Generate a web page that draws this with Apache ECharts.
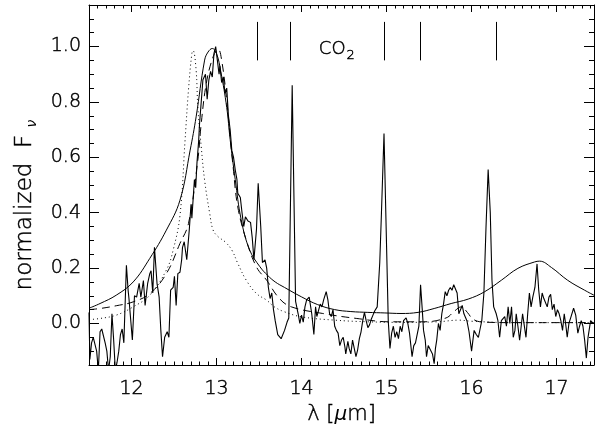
<!DOCTYPE html>
<html>
<head>
<meta charset="utf-8">
<script src="https://cdn.jsdelivr.net/npm/echarts@6/dist/echarts.min.js"></script>
<style>
html,body{margin:0;padding:0;background:#fff;}
#chart{width:595px;height:434px;}
</style>
</head>
<body>
<div id="chart"></div>
<script>
// ---------- data ----------
const xRange = [11.5, 17.44];
const yRange = [-0.15, 1.15];
const xTickValues = [12, 13, 14, 15, 16, 17];
const yTickValues = [0.0, 0.2, 0.4, 0.6, 0.8, 1.0];

// observed spectrum (noisy)
const obsX = [11.50,11.51,11.53,11.55,11.57,11.59,11.61,11.63,11.65,11.67,11.69,11.71,11.73,11.75,11.77,11.79,11.81,11.83,11.85,11.87,11.89,11.91,11.94,11.96,11.97,12.01,12.035,12.06,12.09,12.11,12.14,12.16,12.19,12.215,12.23,12.25,12.27,12.30,12.325,12.345,12.365,12.39,12.42,12.44,12.46,12.49,12.505,12.525,12.545,12.57,12.59,12.60,12.62,12.65,12.68,12.70,12.71,12.74,12.755,12.77,12.79,12.80,12.82,12.84,12.87,12.89,12.91,12.93,12.95,12.97,12.99,13.01,13.03,13.04,13.06,13.08,13.10,13.12,13.14,13.16,13.18,13.20,13.22,13.24,13.25,13.28,13.30,13.32,13.34,13.37,13.40,13.42,13.44,13.47,13.49,13.52,13.54,13.57,13.59,13.61,13.63,13.65,13.67,13.69,13.72,13.76,13.80,13.83,13.85,13.89,13.93,13.96,13.98,14.00,14.02,14.04,14.06,14.09,14.12,14.145,14.165,14.18,14.20,14.22,14.24,14.26,14.29,14.31,14.33,14.35,14.37,14.39,14.41,14.43,14.45,14.47,14.49,14.51,14.52,14.545,14.56,14.58,14.60,14.62,14.64,14.66,14.68,14.70,14.72,14.74,14.76,14.78,14.80,14.82,14.84,14.86,14.89,14.92,14.94,14.97,15.00,15.02,15.04,15.06,15.08,15.10,15.12,15.14,15.16,15.18,15.20,15.23,15.25,15.27,15.30,15.32,15.34,15.36,15.38,15.40,15.42,15.435,15.455,15.47,15.49,15.51,15.54,15.56,15.575,15.59,15.61,15.63,15.65,15.67,15.69,15.71,15.73,15.75,15.77,15.79,15.81,15.83,15.85,15.87,15.89,15.91,15.93,15.945,15.97,16.00,16.03,16.055,16.08,16.10,16.12,16.145,16.17,16.195,16.22,16.24,16.26,16.29,16.31,16.33,16.35,16.37,16.39,16.41,16.43,16.45,16.47,16.49,16.51,16.525,16.545,16.565,16.58,16.60,16.62,16.64,16.66,16.68,16.70,16.72,16.745,16.77,16.79,16.81,16.83,16.85,16.87,16.89,16.91,16.93,16.95,16.97,16.99,17.01,17.03,17.05,17.07,17.09,17.11,17.125,17.145,17.17,17.20,17.225,17.25,17.27,17.29,17.31,17.33,17.35,17.37,17.40,17.43];
const obsY = [0.04,-0.13,-0.07,-0.05,-0.05,-0.10,-0.17,-0.03,-0.02,-0.025,-0.07,-0.10,-0.17,-0.12,0.035,-0.06,-0.17,-0.14,-0.10,-0.04,-0.02,-0.07,0.21,0.12,0.09,-0.06,0.10,0.095,0.145,0.095,0.155,0.065,0.145,0.18,0.19,0.11,0.275,0.145,0.095,-0.025,-0.12,-0.05,-0.03,-0.05,0.12,0.13,0.17,0.065,0.18,0.185,0.23,0.275,0.295,0.23,0.34,0.43,0.38,0.52,0.49,0.58,0.66,0.72,0.80,0.88,0.90,0.81,0.88,0.91,0.89,0.975,1.0,0.95,0.90,0.93,0.87,0.89,0.83,0.85,0.75,0.70,0.625,0.60,0.555,0.52,0.47,0.455,0.40,0.35,0.385,0.37,0.365,0.31,0.23,0.34,0.506,0.35,0.22,0.23,0.20,0.13,0.09,0.11,0.05,0.01,-0.04,-0.055,-0.025,0.005,0.02,0.86,0.08,0.035,0.0,0.03,0.005,0.06,0.085,0.095,0.035,-0.04,0.06,0.025,0.03,0.07,0.06,0.085,0.115,0.085,0.035,0.025,0.05,-0.01,-0.025,-0.035,-0.08,-0.06,-0.05,-0.085,-0.11,-0.065,-0.09,-0.11,-0.06,-0.09,-0.12,-0.095,-0.055,-0.03,0.01,0.04,0.01,-0.015,-0.005,0.015,0.03,0.045,0.06,0.22,0.40,0.686,0.28,0.01,-0.09,-0.035,-0.01,-0.05,-0.03,-0.055,-0.01,-0.03,0.01,0.02,0.0,-0.035,-0.12,-0.08,-0.07,-0.07,-0.01,0.14,0.05,-0.025,-0.06,-0.12,-0.08,-0.085,-0.11,-0.145,-0.09,-0.06,0.0,-0.025,0.035,0.07,0.115,0.10,0.12,0.13,0.12,0.14,0.145,0.11,0.035,0.03,0.065,0.035,0.03,0.01,-0.03,-0.10,-0.025,-0.04,-0.05,-0.02,0.01,0.11,0.35,0.556,0.40,0.155,0.06,0.035,0.01,-0.05,0.01,0.005,0.025,-0.01,0.06,0.0,0.06,-0.05,-0.025,0.035,-0.01,-0.06,-0.02,0.035,0.04,-0.05,0.035,0.11,0.06,0.095,0.13,0.215,0.12,0.06,0.11,0.09,0.095,0.06,0.095,0.105,0.05,0.07,0.025,0.05,0.035,0.01,-0.025,0.035,-0.01,-0.05,0.0,0.025,0.055,0.03,-0.035,-0.01,0.01,-0.01,-0.06,-0.125,-0.05,0.01,0.0];

// model 1 (solid smooth)
const solidX = [11.50,11.63,11.82,12.02,12.215,12.41,12.57,12.69,12.76,12.86,12.90,12.95,13.00,13.05,13.12,13.16,13.22,13.29,13.39,13.51,13.60,13.69,13.80,14.00,14.19,14.39,14.58,14.78,14.98,15.17,15.37,15.56,15.76,15.96,16.15,16.35,16.545,16.74,16.80,16.94,17.13,17.33,17.44];
const solidY = [0.055,0.072,0.102,0.150,0.235,0.337,0.445,0.626,0.746,0.951,0.98,0.993,0.975,0.91,0.78,0.665,0.52,0.375,0.265,0.205,0.174,0.150,0.130,0.096,0.068,0.050,0.043,0.040,0.038,0.036,0.040,0.054,0.072,0.088,0.114,0.156,0.199,0.222,0.225,0.202,0.156,0.120,0.102];

// model 2 (dashed)
const dashX = [11.50,11.63,11.82,12.02,12.215,12.41,12.57,12.67,12.78,12.82,12.88,12.96,13.02,13.06,13.12,13.16,13.195,13.25,13.35,13.47,13.59,13.74,13.88,14.25,14.65,15.04,15.43,15.70,15.80,15.88,15.95,16.02,16.14,16.50,17.00,17.44];
const dashY = [0.050,0.054,0.064,0.078,0.108,0.180,0.289,0.361,0.59,0.722,0.867,0.963,0.99,0.951,0.806,0.674,0.566,0.421,0.301,0.204,0.156,0.09,0.06,0.036,0.018,0.006,0.006,0.02,0.045,0.06,0.04,0.015,0.005,0.003,0.003,0.003];

// model 3 (dotted)
const dotX = [11.50,11.63,11.82,12.02,12.215,12.41,12.49,12.57,12.63,12.67,12.71,12.725,12.76,12.78,12.82,12.86,12.92,12.96,13.02,13.10,13.18,13.25,13.35,13.47,13.59,13.68,13.80,14.00,14.39,14.78,15.20,15.60,15.85,16.00,16.50,17.44];
const dotY = [0.014,0.018,0.030,0.060,0.102,0.193,0.265,0.39,0.662,0.843,0.975,0.985,0.915,0.782,0.638,0.517,0.397,0.337,0.313,0.295,0.265,0.217,0.156,0.108,0.084,0.060,0.042,0.024,0.012,0.006,0.004,0.006,0.012,0.008,0.003,0.003];

// CO2 band markers
const co2X = [13.48, 13.87, 14.97, 15.40, 16.29];
const co2Span = [0.95, 1.089];
const co2Label = [14.415, 0.99];

// ---------- helpers ----------
const pairs = (xs, ys) => xs.map((x, i) => [x, ys[i]]);
const xMinorValues = [];
for (let k = 116; k <= 174; k++) if (k % 10 !== 0) xMinorValues.push(k / 10);
const yMinorValues = [];
for (let k = -3; k <= 23; k++) if (k % 4 !== 0) yMinorValues.push(Math.round(k * 5) / 100);

const FONT = 'DejaVu Sans';
const black = '#000';
// thin, dark text (light face with a hairline outline in black)
const thin = { fontFamily: FONT, fontWeight: 200, color: black, textBorderColor: black, textBorderWidth: 0.45 };
const greek = { fontFamily: FONT, fontWeight: 'normal', fontStyle: 'italic', color: black, textBorderWidth: 0 };

function xAx(pos, major, withLabel) {
  return {
    type: 'value', position: pos, min: xRange[0], max: xRange[1],
    axisLine: { show: major, onZero: false, lineStyle: { color: black, width: 1 } },
    axisTick: { show: true, inside: true, length: major ? 7 : 3.5,
      customValues: major ? xTickValues : xMinorValues, lineStyle: { color: black, width: 1 } },
    axisLabel: withLabel ? Object.assign({ show: true, customValues: xTickValues, margin: 15,
      fontSize: 19, formatter: v => String(v) }, thin) : { show: false },
    splitLine: { show: false }
  };
}
function yAx(pos, major, withLabel) {
  return {
    type: 'value', position: pos, min: yRange[0], max: yRange[1],
    axisLine: { show: major, onZero: false, lineStyle: { color: black, width: 1 } },
    axisTick: { show: true, inside: true, length: major ? 10 : 5,
      customValues: major ? yTickValues : yMinorValues, lineStyle: { color: black, width: 1 } },
    axisLabel: withLabel ? Object.assign({ show: true, customValues: yTickValues, margin: 8,
      fontSize: 19, formatter: v => v.toFixed(1) }, thin) : { show: false },
    splitLine: { show: false }
  };
}

const xAxes = [xAx('bottom', true, true), xAx('bottom', false, false), xAx('top', true, false), xAx('top', false, false)];
Object.assign(xAxes[0], {
  name: '{a|λ [}{b|μ}{a|m]}', nameLocation: 'middle', nameGap: 33,
  nameTextStyle: { rich: {
    a: Object.assign({ fontSize: 21 }, thin),
    b: Object.assign({ fontSize: 20 }, greek) } }
});
const yAxes = [yAx('left', true, true), yAx('left', false, false), yAx('right', true, false), yAx('right', false, false)];
Object.assign(yAxes[0], {
  name: '{a|normalized  F }{b|ν}', nameLocation: 'middle', nameGap: 50, nameRotate: 90,
  nameTextStyle: { padding: [0, 40, 0, 0], rich: {
    a: Object.assign({ fontSize: 23, lineHeight: 26 }, thin),
    b: Object.assign({ fontSize: 14, lineHeight: 14, padding: [16, 0, 0, 0] }, greek) } }
});

const lineBase = { type: 'line', showSymbol: false, symbol: 'none', xAxisIndex: 0, yAxisIndex: 0, animation: false, silent: true };

const option = {
  animation: false,
  backgroundColor: '#fff',
  textStyle: { fontFamily: FONT, color: black },
  grid: { left: 89, right: 1, top: 5, bottom: 69, containLabel: false },
  xAxis: xAxes,
  yAxis: yAxes,
  series: [
    Object.assign({}, lineBase, { name: 'observed', data: pairs(obsX, obsY),
      lineStyle: { color: black, width: 1.1 },
      markLine: { silent: true, symbol: ['none', 'none'], animation: false,
        lineStyle: { color: black, width: 1, type: 'solid' }, label: { show: false },
        data: co2X.map(x => [{ coord: [x, co2Span[0]] }, { coord: [x, co2Span[1]] }]) } }),
    Object.assign({}, lineBase, { name: 'model', data: pairs(solidX, solidY), smooth: 0.4,
      lineStyle: { color: black, width: 1 } }),
    Object.assign({}, lineBase, { name: 'dashed', data: pairs(dashX, dashY), smooth: 0.4,
      lineStyle: { color: black, width: 1, type: [8, 5] } }),
    Object.assign({}, lineBase, { name: 'dotted', data: pairs(dotX, dotY), smooth: 0.4,
      lineStyle: { color: black, width: 1, type: [1, 3] } }),
    { type: 'scatter', xAxisIndex: 0, yAxisIndex: 0, symbolSize: 0, silent: true, animation: false,
      data: [co2Label], itemStyle: { color: black, opacity: 1 },
      label: { show: true, position: 'inside', color: black, opacity: 1, formatter: '{a|CO}{b|2}',
        rich: { a: Object.assign({ fontSize: 18, lineHeight: 20 }, thin),
                b: Object.assign({ fontSize: 13, lineHeight: 14, padding: [12, 0, 0, 1] }, thin) } } }
  ]
};

const chart = echarts.init(document.getElementById('chart'), null, { renderer: 'canvas' });
chart.setOption(option);
</script>
</body>
</html>
